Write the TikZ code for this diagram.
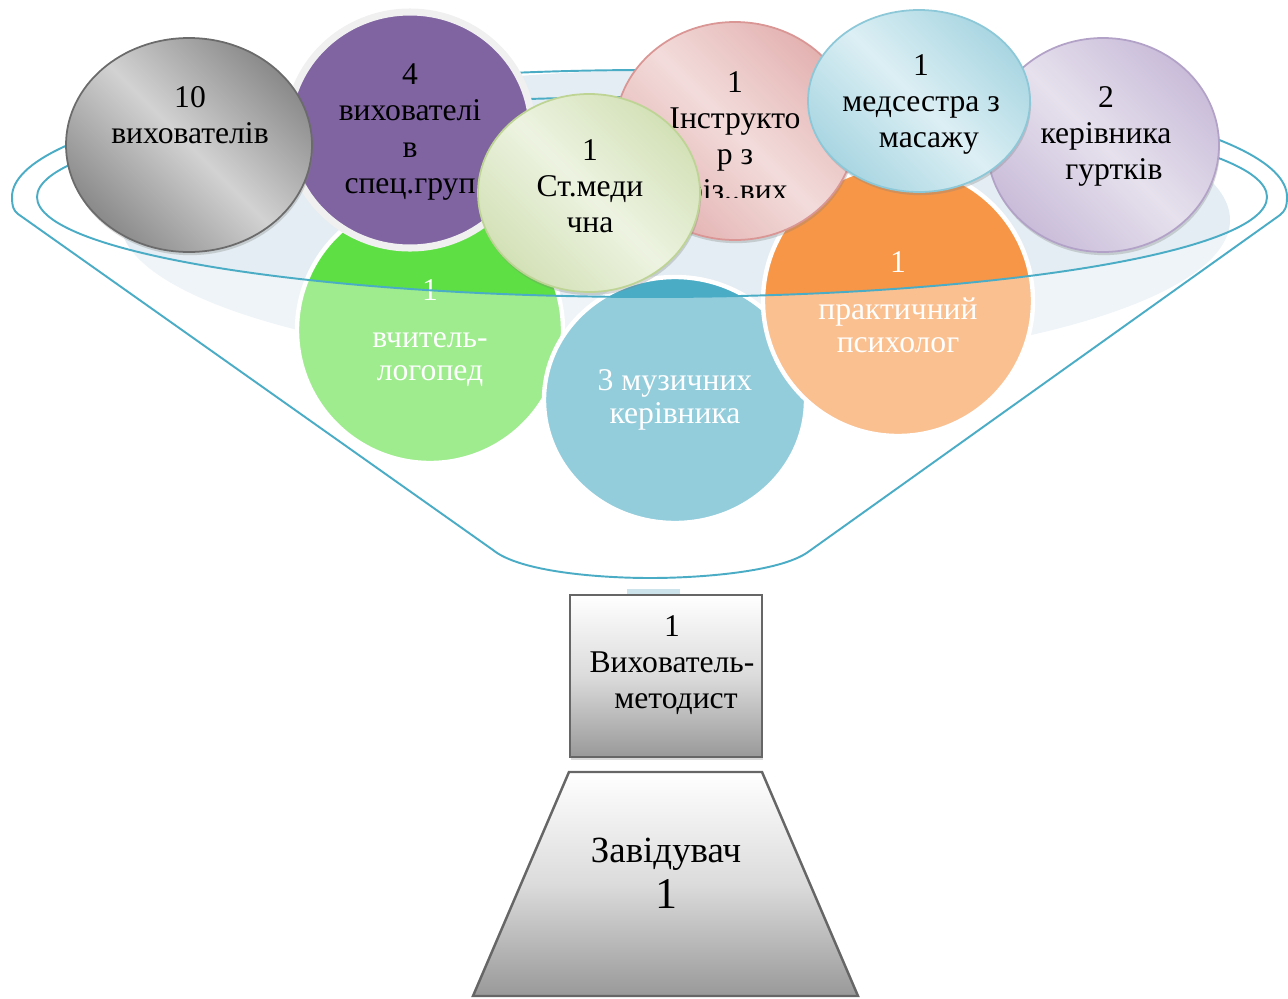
\documentclass[tikz,border=0pt]{standalone}
\usepackage{fontspec}
\setmainfont{Liberation Serif}
\usetikzlibrary{shadows}

\definecolor{rimblue}{HTML}{4BACC6}
\definecolor{funnelback}{HTML}{E4EDF3}
\definecolor{vgreen}{HTML}{5EE044}
\definecolor{vblue}{HTML}{4BACC6}
\definecolor{vorange}{HTML}{F79646}
\definecolor{vpurple}{HTML}{8064A2}
\definecolor{gdark}{HTML}{8A8A8A}
\definecolor{glight}{HTML}{D2D2D2}
\definecolor{pdark}{HTML}{E3B2B1}
\definecolor{plight}{HTML}{F2DCDB}
\definecolor{pline}{HTML}{D99694}
\definecolor{cdark}{HTML}{A9D6E2}
\definecolor{clight}{HTML}{DCEFF4}
\definecolor{cline}{HTML}{8CC8D8}
\definecolor{ldark}{HTML}{C9BCD9}
\definecolor{llight}{HTML}{E6E1ED}
\definecolor{lline}{HTML}{B3A2C7}
\definecolor{mdark}{HTML}{D3E1B7}
\definecolor{mlight}{HTML}{EDF3E1}
\definecolor{mline}{HTML}{BED495}
\definecolor{neck}{HTML}{CDE3EB}

\begin{document}
\begin{tikzpicture}[x=0.02cm,y=-0.02cm,
  backball/.style={draw=white, line width=2.5pt},
  topball/.style={line width=1pt, drop shadow={shadow xshift=0.6pt, shadow yshift=-1.8pt, opacity=0.3}},
  lbl/.style={align=center, inner sep=0pt, font=\fontsize{18}{20.5}\selectfont},
  wlbl/.style={lbl, text=white, font=\fontsize{18}{19}\selectfont},
  rim/.style={draw=rimblue, line width=1.1pt}]
\useasboundingbox (0,0) rectangle (1288,998);

% funnel back
\fill[funnelback] (675,220) ellipse (555 and 150);

% circles inside the funnel
\draw[backball, fill=vgreen] (430,330) ellipse (133 and 133);
\draw[backball, fill=vblue] (675,400) ellipse (131 and 123);
\draw[backball, fill=vorange] (898,301) ellipse (135 and 135);

% funnel wall
\fill[white, opacity=0.4] (37,197) arc[start angle=180, end angle=0, x radius=615, y radius=100]
  -- (1287,197) .. controls (1287,207) and (1285,211) .. (1280,215) -- (808,552)
  .. controls (780,572) and (700,578) .. (650,578) .. controls (600,578) and (520,572) .. (493,550)
  -- (18,214) .. controls (14,211) and (12,207) .. (12,197) -- cycle;

\node[wlbl] (Logo) at (430,333) {1\\[7.7pt]вчитель-\\логопед};
\node[wlbl] (Muz) at (675,400) {3 музичних\\керівника};
\node[wlbl] (Psy) at (898,302) {1\\[7.7pt]практичний\\психолог};

\draw[rim] (12,197) arc[start angle=180, end angle=360, x radius=637.5, y radius=127]
  .. controls (1287,207) and (1285,211) .. (1280,215) -- (808,552)
  .. controls (780,572) and (700,578) .. (650,578) .. controls (600,578) and (520,572) .. (493,550)
  -- (18,214) .. controls (14,211) and (12,207) .. (12,197);
\draw[rim] (652,197) ellipse (615 and 100);

% circles on top
\draw[topball, draw=white!94!black, line width=4pt, fill=vpurple] (410,130) ellipse (122 and 118);
\node[lbl] (Spec) at (410,132) {4\\вихователі\\в\\спец.груп};

\draw[topball, draw=black!58, left color=gdark, right color=gdark, middle color=glight, shading angle=-45] (189,145) ellipse (123 and 107);
\node[lbl] (Vyh) at (190,115) {10\\вихователів};

\draw[topball, draw=pline, left color=pdark, right color=pdark, middle color=plight, shading angle=-45] (735,131) ellipse (120 and 109);
\begin{scope}
\clip (600,20) rectangle (870,197);
\node[lbl] (Instr) at (735,139) {1\\Інструкто\\р з\\фіз..вих};
\end{scope}

\draw[topball, draw=lline, left color=ldark, right color=ldark, middle color=llight, shading angle=-45] (1103,145) ellipse (116 and 107);
\node[lbl] (Gurt) at (1106,136) {2\\керівника\\\ \ гуртків};

\draw[topball, draw=cline, left color=cdark, right color=cdark, middle color=clight, shading angle=-45] (919,101) ellipse (111 and 91);
\node[lbl] (Mas) at (921,104) {1\\медсестра з\\\ \ масажу};

\draw[topball, draw=mline, left color=mdark, right color=mdark, middle color=mlight, shading angle=-45] (589,193) ellipse (111 and 99);
\node[lbl] (Med) at (590,186) {1\\Ст.меди\\чна};

% neck and the two boxes
\fill[neck] (627,589) rectangle (680,597);
\draw[topball, draw=black!60, line width=1.4pt, top color=white, bottom color=black!40, middle color=black!14] (570,595) rectangle (762,757);
\node[lbl] (Metod) at (672,665) {1\\Вихователь-\\\ методист};

\draw[draw=black!60, line width=1.4pt, top color=white, bottom color=black!40, middle color=black!14] (569,772) -- (762,772) -- (858,996) -- (473,996) -- cycle;
\node[lbl, font=\fontsize{21}{26}\selectfont] (Zav) at (666,873) {Завідувач\\\fontsize{25}{26}\selectfont 1};
\end{tikzpicture}
\end{document}
